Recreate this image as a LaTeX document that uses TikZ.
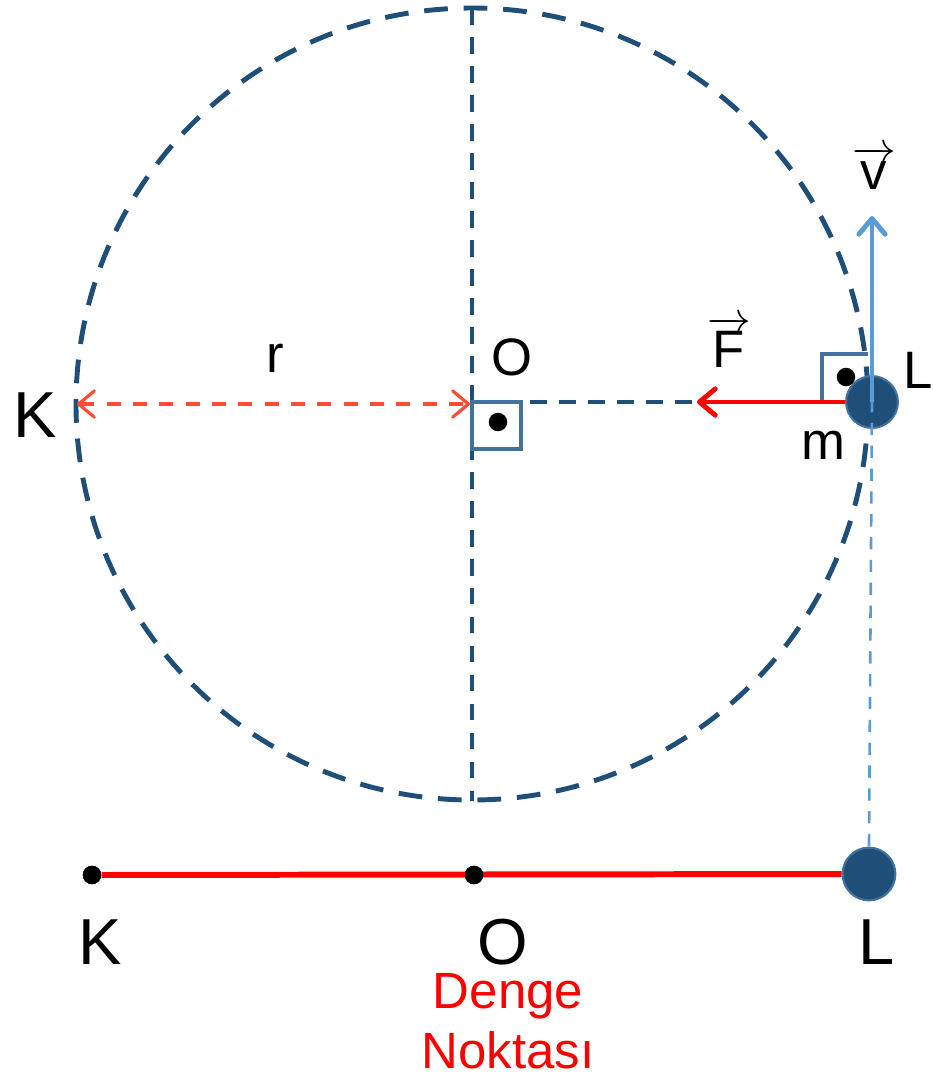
\documentclass[tikz,border=0pt]{standalone}
\usepackage{fontspec}
\setmainfont{Liberation Sans}
\usetikzlibrary{arrows.meta}
\definecolor{dblue}{HTML}{1F4E79}
\definecolor{mblue}{HTML}{41719C}
\definecolor{lblue}{HTML}{5B9BD5}
\definecolor{rorange}{HTML}{FF4B33}
\newcommand\vecl[1]{$\overrightarrow{\mbox{#1}}$}
\tikzset{
  lbl/.style={inner sep=0pt, font=\fontsize{30}{36}\selectfont},
  biglbl/.style={inner sep=0pt, font=\fontsize{37}{44}\selectfont},
  ball/.style={circle, fill=dblue, draw=mblue, line width=1.2pt, minimum size=29.5pt, inner sep=0pt},
  bdot/.style={circle, fill=black, minimum size=10.5pt, inner sep=0pt},
  thindash/.style={dblue, line width=1.9pt, dash pattern=on 9.5pt off 7pt},
  chev/.style={-{Straight Barb[length=9pt,width=15pt,round]}},
  rangle/.style={mblue, line width=1.8pt}
}
\begin{document}
\begin{tikzpicture}[x=0.02cm,y=-0.02cm]
\useasboundingbox (0,0) rectangle (933,1080);
% key points
\coordinate (O) at (472,404);
\coordinate (Ktop) at (77,404);
\coordinate (top) at (472,8);
\coordinate (bot) at (472,801);
\coordinate (Ftip) at (697,402);
\coordinate (vtip) at (872,216);
% circle
\draw[dblue, line width=2.8pt, dash pattern=on 13.5pt off 9pt] (O) circle [radius=396];
% vertical diameter and horizontal radius
\draw[thindash] (top) -- (bot);
\draw[thindash] (472,402) -- (Ftip);
% right angle at O
\draw[rangle] (472,402) rectangle (521,449);
\node[bdot] (dO) at (498,422) {};
% r arrow
\draw[rorange, line width=1.8pt, dash pattern=on 8pt off 7pt, {Straight Barb[length=9pt,width=15pt,round]}-{Straight Barb[length=9pt,width=15pt,round]}] (Ktop) -- (470,404);
% ball at L
\node[ball] (mL) at (872,402) {};
% right angle at L
\draw[rangle] (822,402) -- (822,354) -- (868,354);
\node[bdot] (dL) at (846,377) {};
% F arrow
\draw[red, line width=2.8pt, chev] (mL.west) -- (Ftip);
% v arrow
\draw[lblue, line width=2.8pt, chev] (mL.center) -- (vtip);
% projection line
\node[ball, minimum size=30pt] (bL) at (869,874) {};
\draw[lblue, line width=1.5pt, dash pattern=on 7pt off 6pt] (872,400) -- (bL.north);
% bottom line
\node[bdot] (bK) at (92,875) {};
\node[bdot] (bO) at (474,875) {};
\draw[red, line width=3.4pt] (bK) -- (bL.west);
\node[bdot] at (92,875) {};
\node[bdot] at (474,875) {};
% labels
\node[biglbl] (lK) at (35,415) {K};
\node[lbl] (lr) at (275,358) {r};
\node[lbl] (lO) at (512,357) {O};
\node[lbl] (lF) at (729,342) {\vecl{F}};
\node[lbl] (lv) at (874,168) {\vecl{v}};
\node[lbl] (lL) at (918,370) {L};
\node[lbl] (lm) at (823,445) {m};
\node[biglbl] (bKl) at (100,942) {K};
\node[biglbl] (bOl) at (503,942) {O};
\node[biglbl] (bLl) at (877,942) {L};
\node[inner sep=0pt, text=red, font=\fontsize{29}{34}\selectfont, align=center] (den) at (508,1021) {Denge\\Noktası};
\end{tikzpicture}
\end{document}
